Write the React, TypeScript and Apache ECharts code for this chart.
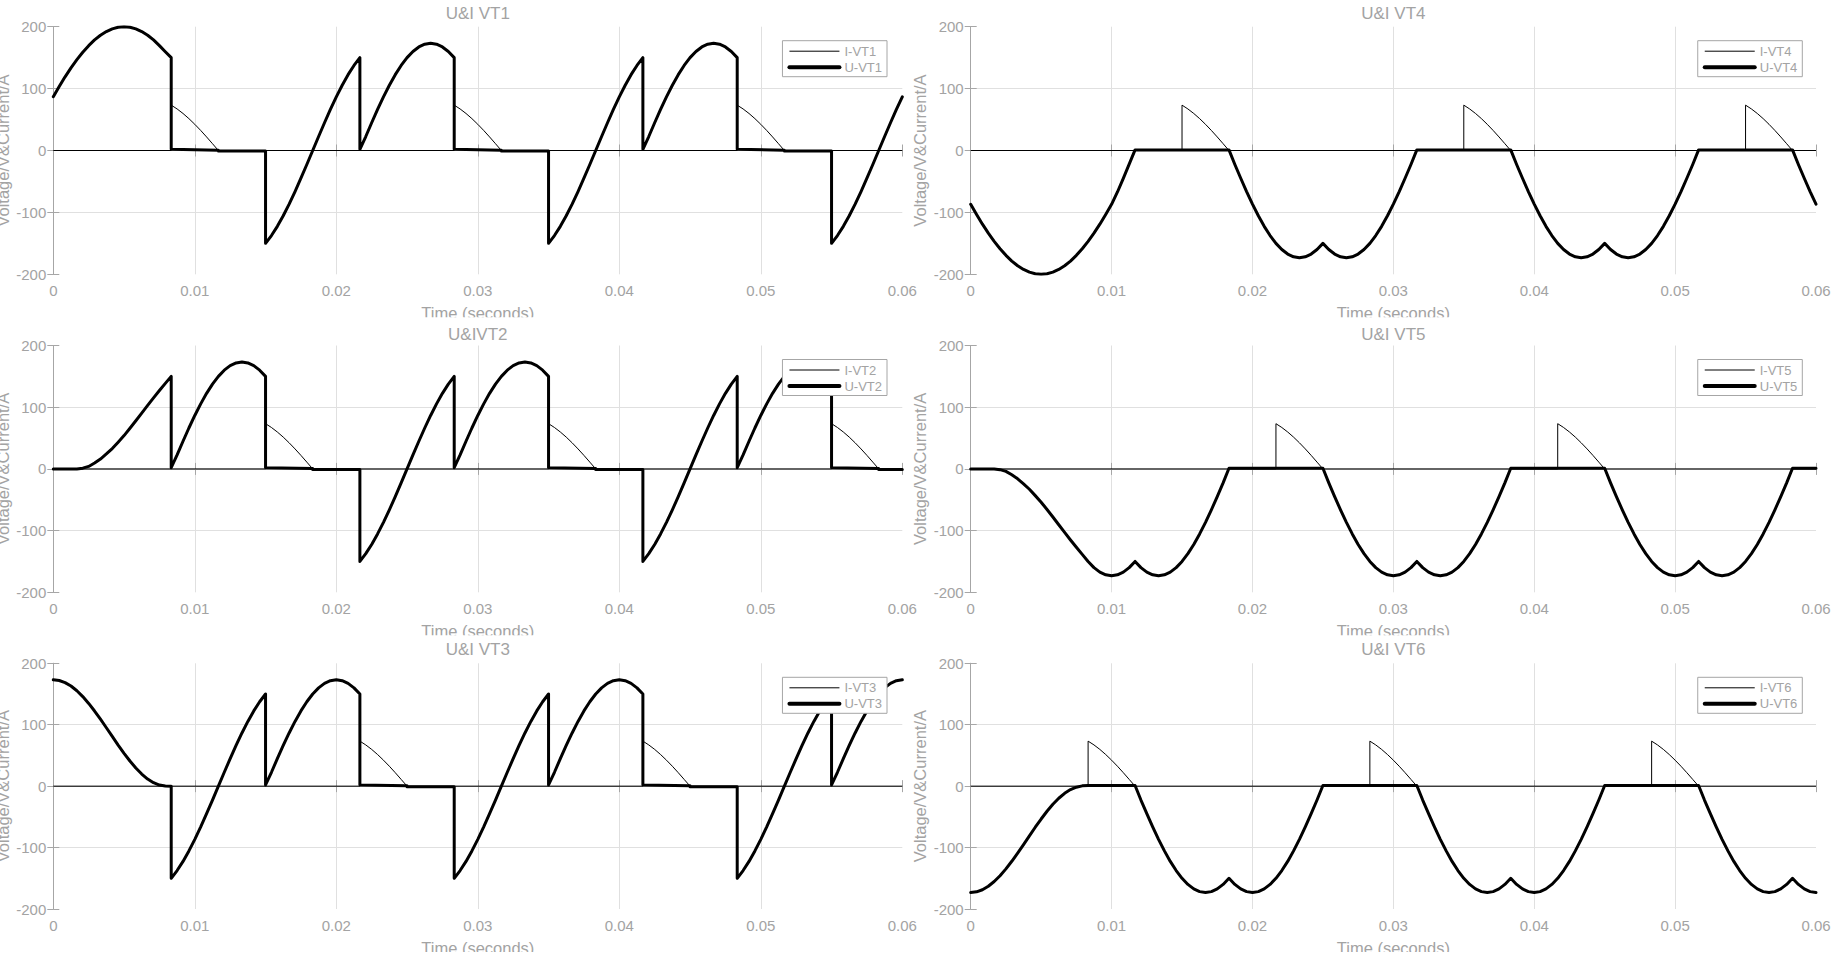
import React, { useEffect, useRef } from 'react';
import * as echarts from 'echarts';

// ---------- tick labels ----------
const X_TICKS = [0, 0.01, 0.02, 0.03, 0.04, 0.05, 0.06];
const Y_TICKS = [-200, -100, 0, 100, 200];

// ---------- data: [time (ms), value] ----------
const U_VT1: number[][] = [
  [0, 87], [0.417, 103.4], [0.833, 119], [1.25, 133.5], [1.667, 146.7], [2.083, 158.7], [2.5, 169.4], [2.917, 178.6], [3.333, 186.2], [3.75, 192.2], [4.167, 196.5], [4.583, 199.1], [5, 200], [5.417, 199.1], [5.833, 196.5], [6.25, 192.2], [6.667, 186.2], [7.083, 178.6], [7.5, 169.4], [7.917, 159.5], [8.333, 150],
  [8.333, 2], [11.667, 0.5], [11.667, -1], [15, -1],
  [15, -150], [15.417, -137.4], [15.833, -122.5], [16.25, -105.4], [16.667, -86.6], [17.083, -66.3], [17.5, -44.8], [17.917, -22.6], [18.333, 0], [18.75, 22.6], [19.167, 44.8], [19.583, 66.3], [20, 86.6], [20.417, 105.4], [20.833, 122.5], [21.25, 137.4], [21.667, 150],
  [21.667, 2], [22.083, 22.6], [22.5, 44.8], [22.917, 66.3], [23.333, 86.6], [23.75, 105.4], [24.167, 122.5], [24.583, 137.4], [25, 150], [25.417, 160], [25.833, 167.3], [26.25, 171.7], [26.667, 173.2], [27.083, 171.7], [27.5, 167.3], [27.917, 160], [28.333, 150],
  [28.333, 2], [31.667, 0.5], [31.667, -1], [35, -1],
  [35, -150], [35.417, -137.4], [35.833, -122.5], [36.25, -105.4], [36.667, -86.6], [37.083, -66.3], [37.5, -44.8], [37.917, -22.6], [38.333, 0], [38.75, 22.6], [39.167, 44.8], [39.583, 66.3], [40, 86.6], [40.417, 105.4], [40.833, 122.5], [41.25, 137.4], [41.667, 150],
  [41.667, 2], [42.083, 22.6], [42.5, 44.8], [42.917, 66.3], [43.333, 86.6], [43.75, 105.4], [44.167, 122.5], [44.583, 137.4], [45, 150], [45.417, 160], [45.833, 167.3], [46.25, 171.7], [46.667, 173.2], [47.083, 171.7], [47.5, 167.3], [47.917, 160], [48.333, 150],
  [48.333, 2], [51.667, 0.5], [51.667, -1], [55, -1],
  [55, -150], [55.417, -137.4], [55.833, -122.5], [56.25, -105.4], [56.667, -86.6], [57.083, -66.3], [57.5, -44.8], [57.917, -22.6], [58.333, 0], [58.75, 22.6], [59.167, 44.8], [59.583, 66.3], [60, 86.6],
];
const I_VT1: number[][] = [
  [0, 0], [8.333, 0], [8.333, 73.3], [8.75, 67.1], [9.167, 59.8], [9.583, 51.5], [10, 42.3], [10.417, 32.4], [10.833, 21.9], [11.25, 11], [11.667, 0],
  [28.333, 0], [28.333, 73.3], [28.75, 67.1], [29.167, 59.8], [29.583, 51.5], [30, 42.3], [30.417, 32.4], [30.833, 21.9], [31.25, 11], [31.667, 0],
  [48.333, 0], [48.333, 73.3], [48.75, 67.1], [49.167, 59.8], [49.583, 51.5], [50, 42.3], [50.417, 32.4], [50.833, 21.9], [51.25, 11], [51.667, 0], [60, 0],
];

const U_VT2: number[][] = [
  [0, 0], [1.667, 0], [2.083, 1.2], [2.5, 4], [2.917, 9.5], [3.333, 16], [3.75, 24.2], [4.167, 33], [4.583, 43.3], [5, 54], [5.417, 65.8], [5.833, 78], [6.25, 90.5], [6.667, 103], [7.083, 115.2], [7.5, 127], [7.917, 138.6], [8.333, 150],
  [8.333, 2], [8.75, 22.6], [9.167, 44.8], [9.583, 66.3], [10, 86.6], [10.417, 105.4], [10.833, 122.5], [11.25, 137.4], [11.667, 150], [12.083, 160], [12.5, 167.3], [12.917, 171.7], [13.333, 173.2], [13.75, 171.7], [14.167, 167.3], [14.583, 160], [15, 150],
  [15, 2], [18.333, 0.5], [18.333, -1], [21.667, -1],
  [21.667, -150], [22.083, -137.4], [22.5, -122.5], [22.917, -105.4], [23.333, -86.6], [23.75, -66.3], [24.167, -44.8], [24.583, -22.6], [25, 0], [25.417, 22.6], [25.833, 44.8], [26.25, 66.3], [26.667, 86.6], [27.083, 105.4], [27.5, 122.5], [27.917, 137.4], [28.333, 150],
  [28.333, 2], [28.75, 22.6], [29.167, 44.8], [29.583, 66.3], [30, 86.6], [30.417, 105.4], [30.833, 122.5], [31.25, 137.4], [31.667, 150], [32.083, 160], [32.5, 167.3], [32.917, 171.7], [33.333, 173.2], [33.75, 171.7], [34.167, 167.3], [34.583, 160], [35, 150],
  [35, 2], [38.333, 0.5], [38.333, -1], [41.667, -1],
  [41.667, -150], [42.083, -137.4], [42.5, -122.5], [42.917, -105.4], [43.333, -86.6], [43.75, -66.3], [44.167, -44.8], [44.583, -22.6], [45, 0], [45.417, 22.6], [45.833, 44.8], [46.25, 66.3], [46.667, 86.6], [47.083, 105.4], [47.5, 122.5], [47.917, 137.4], [48.333, 150],
  [48.333, 2], [48.75, 22.6], [49.167, 44.8], [49.583, 66.3], [50, 86.6], [50.417, 105.4], [50.833, 122.5], [51.25, 137.4], [51.667, 150], [52.083, 160], [52.5, 167.3], [52.917, 171.7], [53.333, 173.2], [53.75, 171.7], [54.167, 167.3], [54.583, 160], [55, 150],
  [55, 2], [58.333, 0.5], [58.333, -1], [60, -1],
];
const I_VT2: number[][] = [
  [0, 0], [15, 0], [15, 73.3], [15.417, 67.1], [15.833, 59.8], [16.25, 51.5], [16.667, 42.3], [17.083, 32.4], [17.5, 21.9], [17.917, 11], [18.333, 0],
  [35, 0], [35, 73.3], [35.417, 67.1], [35.833, 59.8], [36.25, 51.5], [36.667, 42.3], [37.083, 32.4], [37.5, 21.9], [37.917, 11], [38.333, 0],
  [55, 0], [55, 73.3], [55.417, 67.1], [55.833, 59.8], [56.25, 51.5], [56.667, 42.3], [57.083, 32.4], [57.5, 21.9], [57.917, 11], [58.333, 0], [60, 0],
];

const U_VT3: number[][] = [
  [0, 173.2], [0.417, 172], [0.833, 168.6], [1.25, 163], [1.667, 155.3], [2.083, 145.8], [2.5, 134.7], [2.917, 122.3], [3.333, 109], [3.75, 95.1], [4.167, 81], [4.583, 66.9], [5, 53.5], [5.417, 40.9], [5.833, 29.5], [6.25, 19.7], [6.667, 11.6], [7.083, 5.6], [7.5, 1.7], [7.917, 0.2], [8.333, 0],
  [8.333, -150], [8.75, -137.4], [9.167, -122.5], [9.583, -105.4], [10, -86.6], [10.417, -66.3], [10.833, -44.8], [11.25, -22.6], [11.667, 0], [12.083, 22.6], [12.5, 44.8], [12.917, 66.3], [13.333, 86.6], [13.75, 105.4], [14.167, 122.5], [14.583, 137.4], [15, 150],
  [15, 2], [15.417, 22.6], [15.833, 44.8], [16.25, 66.3], [16.667, 86.6], [17.083, 105.4], [17.5, 122.5], [17.917, 137.4], [18.333, 150], [18.75, 160], [19.167, 167.3], [19.583, 171.7], [20, 173.2], [20.417, 171.7], [20.833, 167.3], [21.25, 160], [21.667, 150],
  [21.667, 2], [25, 0.5], [25, -1], [28.333, -1],
  [28.333, -150], [28.75, -137.4], [29.167, -122.5], [29.583, -105.4], [30, -86.6], [30.417, -66.3], [30.833, -44.8], [31.25, -22.6], [31.667, 0], [32.083, 22.6], [32.5, 44.8], [32.917, 66.3], [33.333, 86.6], [33.75, 105.4], [34.167, 122.5], [34.583, 137.4], [35, 150],
  [35, 2], [35.417, 22.6], [35.833, 44.8], [36.25, 66.3], [36.667, 86.6], [37.083, 105.4], [37.5, 122.5], [37.917, 137.4], [38.333, 150], [38.75, 160], [39.167, 167.3], [39.583, 171.7], [40, 173.2], [40.417, 171.7], [40.833, 167.3], [41.25, 160], [41.667, 150],
  [41.667, 2], [45, 0.5], [45, -1], [48.333, -1],
  [48.333, -150], [48.75, -137.4], [49.167, -122.5], [49.583, -105.4], [50, -86.6], [50.417, -66.3], [50.833, -44.8], [51.25, -22.6], [51.667, 0], [52.083, 22.6], [52.5, 44.8], [52.917, 66.3], [53.333, 86.6], [53.75, 105.4], [54.167, 122.5], [54.583, 137.4], [55, 150],
  [55, 2], [55.417, 22.6], [55.833, 44.8], [56.25, 66.3], [56.667, 86.6], [57.083, 105.4], [57.5, 122.5], [57.917, 137.4], [58.333, 150], [58.75, 160], [59.167, 167.3], [59.583, 171.7], [60, 173.2],
];
const I_VT3: number[][] = [
  [0, 0], [21.667, 0], [21.667, 73.3], [22.083, 67.1], [22.5, 59.8], [22.917, 51.5], [23.333, 42.3], [23.75, 32.4], [24.167, 21.9], [24.583, 11], [25, 0],
  [41.667, 0], [41.667, 73.3], [42.083, 67.1], [42.5, 59.8], [42.917, 51.5], [43.333, 42.3], [43.75, 32.4], [44.167, 21.9], [44.583, 11], [45, 0], [60, 0],
];

const U_VT4: number[][] = [
  [0, -87], [0.417, -103.4], [0.833, -119], [1.25, -133.5], [1.667, -146.7], [2.083, -158.7], [2.5, -169.4], [2.917, -178.6], [3.333, -186.2], [3.75, -192.2], [4.167, -196.5], [4.583, -199.1], [5, -200], [5.417, -199.1], [5.833, -196.5], [6.25, -192.2], [6.667, -186.2], [7.083, -178.6], [7.5, -169.4], [7.917, -158.7], [8.333, -146.7], [8.75, -133.5], [9.167, -119], [9.583, -103.4], [10, -87], [10.417, -67], [10.833, -45], [11.25, -22], [11.667, 1],
  [18.333, 1], [18.75, -22.6], [19.167, -44.8], [19.583, -66.3], [20, -86.6], [20.417, -105.4], [20.833, -122.5], [21.25, -137.4], [21.667, -150], [22.083, -160], [22.5, -167.3], [22.917, -171.7], [23.333, -173.2], [23.75, -171.7], [24.167, -167.3], [24.583, -160], [25, -150],
  [25.417, -160], [25.833, -167.3], [26.25, -171.7], [26.667, -173.2], [27.083, -171.7], [27.5, -167.3], [27.917, -160], [28.333, -150], [28.75, -137.4], [29.167, -122.5], [29.583, -105.4], [30, -86.6], [30.417, -66.3], [30.833, -44.8], [31.25, -22.6], [31.667, 1],
  [38.333, 1], [38.75, -22.6], [39.167, -44.8], [39.583, -66.3], [40, -86.6], [40.417, -105.4], [40.833, -122.5], [41.25, -137.4], [41.667, -150], [42.083, -160], [42.5, -167.3], [42.917, -171.7], [43.333, -173.2], [43.75, -171.7], [44.167, -167.3], [44.583, -160], [45, -150],
  [45.417, -160], [45.833, -167.3], [46.25, -171.7], [46.667, -173.2], [47.083, -171.7], [47.5, -167.3], [47.917, -160], [48.333, -150], [48.75, -137.4], [49.167, -122.5], [49.583, -105.4], [50, -86.6], [50.417, -66.3], [50.833, -44.8], [51.25, -22.6], [51.667, 1],
  [58.333, 1], [58.75, -22.6], [59.167, -44.8], [59.583, -66.3], [60, -86.6],
];
const I_VT4: number[][] = [
  [0, 0], [15, 0], [15, 73.3], [15.417, 67.1], [15.833, 59.8], [16.25, 51.5], [16.667, 42.3], [17.083, 32.4], [17.5, 21.9], [17.917, 11], [18.333, 0],
  [35, 0], [35, 73.3], [35.417, 67.1], [35.833, 59.8], [36.25, 51.5], [36.667, 42.3], [37.083, 32.4], [37.5, 21.9], [37.917, 11], [38.333, 0],
  [55, 0], [55, 73.3], [55.417, 67.1], [55.833, 59.8], [56.25, 51.5], [56.667, 42.3], [57.083, 32.4], [57.5, 21.9], [57.917, 11], [58.333, 0], [60, 0],
];

const U_VT5: number[][] = [
  [0, 0], [1.667, 0], [2.083, -1.2], [2.5, -4], [2.917, -9.5], [3.333, -16], [3.75, -24.2], [4.167, -33], [4.583, -43.3], [5, -54], [5.417, -65.8], [5.833, -78], [6.25, -90.5], [6.667, -103], [7.083, -115.2], [7.5, -127], [7.917, -138.6], [8.333, -150], [8.75, -160], [9.167, -167.3], [9.583, -171.7], [10, -173.2], [10.417, -171.7], [10.833, -167.3], [11.25, -160], [11.667, -150],
  [12.083, -160], [12.5, -167.3], [12.917, -171.7], [13.333, -173.2], [13.75, -171.7], [14.167, -167.3], [14.583, -160], [15, -150], [15.417, -137.4], [15.833, -122.5], [16.25, -105.4], [16.667, -86.6], [17.083, -66.3], [17.5, -44.8], [17.917, -22.6], [18.333, 1],
  [25, 1], [25.417, -22.6], [25.833, -44.8], [26.25, -66.3], [26.667, -86.6], [27.083, -105.4], [27.5, -122.5], [27.917, -137.4], [28.333, -150], [28.75, -160], [29.167, -167.3], [29.583, -171.7], [30, -173.2], [30.417, -171.7], [30.833, -167.3], [31.25, -160], [31.667, -150],
  [32.083, -160], [32.5, -167.3], [32.917, -171.7], [33.333, -173.2], [33.75, -171.7], [34.167, -167.3], [34.583, -160], [35, -150], [35.417, -137.4], [35.833, -122.5], [36.25, -105.4], [36.667, -86.6], [37.083, -66.3], [37.5, -44.8], [37.917, -22.6], [38.333, 1],
  [45, 1], [45.417, -22.6], [45.833, -44.8], [46.25, -66.3], [46.667, -86.6], [47.083, -105.4], [47.5, -122.5], [47.917, -137.4], [48.333, -150], [48.75, -160], [49.167, -167.3], [49.583, -171.7], [50, -173.2], [50.417, -171.7], [50.833, -167.3], [51.25, -160], [51.667, -150],
  [52.083, -160], [52.5, -167.3], [52.917, -171.7], [53.333, -173.2], [53.75, -171.7], [54.167, -167.3], [54.583, -160], [55, -150], [55.417, -137.4], [55.833, -122.5], [56.25, -105.4], [56.667, -86.6], [57.083, -66.3], [57.5, -44.8], [57.917, -22.6], [58.333, 1],
  [60, 1],
];
const I_VT5: number[][] = [
  [0, 0], [21.667, 0], [21.667, 73.3], [22.083, 67.1], [22.5, 59.8], [22.917, 51.5], [23.333, 42.3], [23.75, 32.4], [24.167, 21.9], [24.583, 11], [25, 0],
  [41.667, 0], [41.667, 73.3], [42.083, 67.1], [42.5, 59.8], [42.917, 51.5], [43.333, 42.3], [43.75, 32.4], [44.167, 21.9], [44.583, 11], [45, 0], [60, 0],
];

const U_VT6: number[][] = [
  [0, -173.2], [0.417, -172], [0.833, -168.6], [1.25, -163], [1.667, -155.3], [2.083, -145.8], [2.5, -134.7], [2.917, -122.3], [3.333, -109], [3.75, -95.1], [4.167, -81], [4.583, -66.9], [5, -53.5], [5.417, -40.9], [5.833, -29.5], [6.25, -19.7], [6.667, -11.6], [7.083, -5.6], [7.5, -1.7], [7.917, 0.5], [8.333, 1],
  [11.667, 1], [12.083, -22.6], [12.5, -44.8], [12.917, -66.3], [13.333, -86.6], [13.75, -105.4], [14.167, -122.5], [14.583, -137.4], [15, -150], [15.417, -160], [15.833, -167.3], [16.25, -171.7], [16.667, -173.2], [17.083, -171.7], [17.5, -167.3], [17.917, -160], [18.333, -150],
  [18.75, -160], [19.167, -167.3], [19.583, -171.7], [20, -173.2], [20.417, -171.7], [20.833, -167.3], [21.25, -160], [21.667, -150], [22.083, -137.4], [22.5, -122.5], [22.917, -105.4], [23.333, -86.6], [23.75, -66.3], [24.167, -44.8], [24.583, -22.6], [25, 1],
  [31.667, 1], [32.083, -22.6], [32.5, -44.8], [32.917, -66.3], [33.333, -86.6], [33.75, -105.4], [34.167, -122.5], [34.583, -137.4], [35, -150], [35.417, -160], [35.833, -167.3], [36.25, -171.7], [36.667, -173.2], [37.083, -171.7], [37.5, -167.3], [37.917, -160], [38.333, -150],
  [38.75, -160], [39.167, -167.3], [39.583, -171.7], [40, -173.2], [40.417, -171.7], [40.833, -167.3], [41.25, -160], [41.667, -150], [42.083, -137.4], [42.5, -122.5], [42.917, -105.4], [43.333, -86.6], [43.75, -66.3], [44.167, -44.8], [44.583, -22.6], [45, 1],
  [51.667, 1], [52.083, -22.6], [52.5, -44.8], [52.917, -66.3], [53.333, -86.6], [53.75, -105.4], [54.167, -122.5], [54.583, -137.4], [55, -150], [55.417, -160], [55.833, -167.3], [56.25, -171.7], [56.667, -173.2], [57.083, -171.7], [57.5, -167.3], [57.917, -160], [58.333, -150],
  [58.75, -160], [59.167, -167.3], [59.583, -171.7], [60, -173.2],
];
const I_VT6: number[][] = [
  [0, 0], [8.333, 0], [8.333, 73.3], [8.75, 67.1], [9.167, 59.8], [9.583, 51.5], [10, 42.3], [10.417, 32.4], [10.833, 21.9], [11.25, 11], [11.667, 0],
  [28.333, 0], [28.333, 73.3], [28.75, 67.1], [29.167, 59.8], [29.583, 51.5], [30, 42.3], [30.417, 32.4], [30.833, 21.9], [31.25, 11], [31.667, 0],
  [48.333, 0], [48.333, 73.3], [48.75, 67.1], [49.167, 59.8], [49.583, 51.5], [50, 42.3], [50.417, 32.4], [50.833, 21.9], [51.25, 11], [51.667, 0], [60, 0],
];

// panels in reading order: row by row, left column then right column
const PANEL_TITLES = ['U&I VT1', 'U&I VT4', 'U&IVT2', 'U&I VT5', 'U&I VT3', 'U&I VT6'];
const CURRENT_NAMES = ['I-VT1', 'I-VT4', 'I-VT2', 'I-VT5', 'I-VT3', 'I-VT6'];
const VOLTAGE_NAMES = ['U-VT1', 'U-VT4', 'U-VT2', 'U-VT5', 'U-VT3', 'U-VT6'];
const CURRENTS = [I_VT1, I_VT4, I_VT2, I_VT5, I_VT3, I_VT6];
const VOLTAGES = [U_VT1, U_VT4, U_VT2, U_VT5, U_VT3, U_VT6];

const X_NAME = 'Time (seconds)';
const Y_NAME = 'Voltage/V&Current/A';

// ---------- layout / style ----------
const W = 1838;
const H = 956;
const COL_LEFT = [53.3, 970.7];
const COL_WIDTH = [849, 845.3];
const ROW_TOP = [26.7, 345.5, 663.3];
const ROW_HEIGHT = [247.6, 246.8, 245.7];
const TITLE_Y = [13, 334, 649];
const FONT = "'Liberation Sans', Arial, Helvetica, sans-serif";
const TEXT = '#a3a3a3';
const BOX = '#a6a6a6';
const GRIDC = '#e0e0e0';

function buildOption() {
  const xMin = X_TICKS[0];
  const xMax = X_TICKS[X_TICKS.length - 1];
  const xStep = X_TICKS[1] - X_TICKS[0];
  const yMin = Y_TICKS[0];
  const yMax = Y_TICKS[Y_TICKS.length - 1];
  const yStep = Y_TICKS[1] - Y_TICKS[0];

  const grid: any[] = [];
  const xAxis: any[] = [];
  const yAxis: any[] = [];
  const series: any[] = [];
  const legend: any[] = [];
  const graphic: any[] = [];

  const tick = { show: true, inside: true, length: 6, lineStyle: { color: BOX, width: 1 } };
  const line = { show: true, lineStyle: { color: BOX, width: 1 } };

  PANEL_TITLES.forEach((title, p) => {
    const row = Math.floor(p / 2);
    const col = p % 2;
    const left = COL_LEFT[col];
    const width = COL_WIDTH[col];
    const top = ROW_TOP[row];
    const height = ROW_HEIGHT[row];
    grid.push({ left, top, width, height, containLabel: false, outerBoundsMode: 'none' });

    xAxis.push({
      type: 'value', gridIndex: p, min: xMin, max: xMax, interval: xStep,
      name: X_NAME, nameLocation: 'middle', nameGap: 30,
      nameTextStyle: { color: TEXT, fontSize: 16.5, fontFamily: FONT },
      axisLine: line, axisTick: tick,
      axisLabel: { color: TEXT, fontSize: 15, fontFamily: FONT, margin: 9 },
      splitLine: { show: true, showMinLine: false, showMaxLine: false, lineStyle: { color: GRIDC, width: 1 } },
    });
    xAxis.push({
      type: 'value', gridIndex: p, position: 'top', min: xMin, max: xMax, interval: xStep,
      axisLine: line, axisTick: tick, axisLabel: { show: false }, splitLine: { show: false },
    });
    yAxis.push({
      type: 'value', gridIndex: p, min: yMin, max: yMax, interval: yStep,
      name: Y_NAME, nameLocation: 'middle', nameGap: 42,
      nameTextStyle: { color: TEXT, fontSize: 16.5, fontFamily: FONT },
      axisLine: line, axisTick: tick,
      axisLabel: { color: TEXT, fontSize: 15, fontFamily: FONT, margin: 7 },
      splitLine: { show: true, showMinLine: false, showMaxLine: false, lineStyle: { color: GRIDC, width: 1 } },
    });
    yAxis.push({
      type: 'value', gridIndex: p, position: 'right', min: yMin, max: yMax, interval: yStep,
      axisLine: line, axisTick: tick, axisLabel: { show: false }, splitLine: { show: false },
    });

    series.push({
      type: 'line', name: CURRENT_NAMES[p], xAxisIndex: 2 * p, yAxisIndex: 2 * p,
      data: CURRENTS[p].map(([t, v]) => [t / 1000, v]),
      symbol: 'none', showSymbol: false,
      itemStyle: { color: '#000' },
      lineStyle: { color: '#000', width: 1, join: 'round' },
      z: 2,
    });
    series.push({
      type: 'line', name: VOLTAGE_NAMES[p], xAxisIndex: 2 * p, yAxisIndex: 2 * p,
      data: VOLTAGES[p].map(([t, v]) => [t / 1000, v]),
      symbol: 'none', showSymbol: false,
      itemStyle: { color: '#000' },
      lineStyle: { color: '#000', width: 3, join: 'round', cap: 'round' },
      z: 3,
    });

    legend.push({
      data: [
        { name: CURRENT_NAMES[p], lineStyle: { width: 1, color: '#000' } },
        { name: VOLTAGE_NAMES[p], lineStyle: { width: 4, color: '#000' } },
      ],
      orient: 'vertical',
      right: W - (left + width) + (col === 0 ? 15.3 : 13.7),
      top: top + 14,
      itemWidth: 50, itemHeight: 14, itemGap: 3,
      padding: [4, 5, 3, 5],
      backgroundColor: '#fff', borderColor: BOX, borderWidth: 1, borderRadius: 0,
      itemStyle: { opacity: 0 },
      textStyle: { color: TEXT, fontSize: 13, fontFamily: FONT },
      selectedMode: false,
      z: 10,
    });

    graphic.push({
      type: 'text', x: left + width / 2, y: TITLE_Y[row], z: 20,
      style: { text: title, fill: TEXT, fontSize: 17, fontFamily: FONT, align: 'center', verticalAlign: 'middle' },
    });
  });

  // the x-axis names are cut off by the panel below (and by the page edge)
  ROW_TOP.forEach((top, row) => {
    const yCut = top + ROW_HEIGHT[row] + 43;
    graphic.push({
      type: 'rect', z: 15,
      shape: { x: 0, y: yCut, width: W, height: row < 2 ? 8 : H - yCut },
      style: { fill: '#fff' },
    });
  });

  return {
    animation: false,
    backgroundColor: '#fff',
    grid, xAxis, yAxis, series, legend, graphic,
  };
}

export default function App() {
  const ref = useRef<HTMLDivElement | null>(null);
  useEffect(() => {
    if (!ref.current) return;
    const chart = echarts.init(ref.current, undefined, { renderer: 'svg' });
    chart.setOption(buildOption() as any);
    return () => chart.dispose();
  }, []);
  return (
    <div
      ref={ref}
      style={{ position: 'fixed', left: 0, top: 0, width: W, height: H, background: '#fff' }}
    />
  );
}
